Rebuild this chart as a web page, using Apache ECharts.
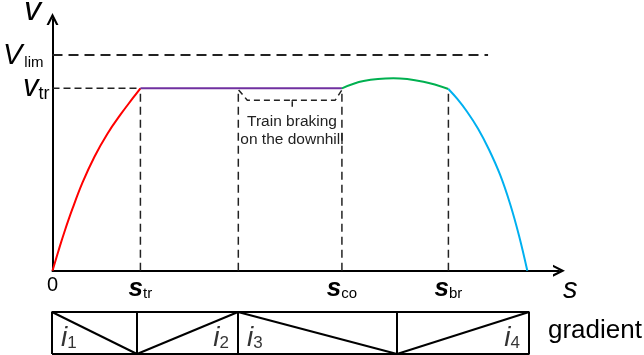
<!DOCTYPE html>
<html><head><meta charset="utf-8">
<script src="https://cdn.jsdelivr.net/npm/echarts@6/dist/echarts.min.js"></script>
<style>html,body{margin:0;padding:0;background:#fff}#c{width:644px;height:355px}</style>
</head><body><div id="c"></div>
<script>
// ---- data (distance units along s, speed units along v) ----
const accelCurve  = [[0,0],[6,20],[12,39],[20,62],[30,88],[42,114],[55,137],[68,156],[80,172],[88,182.4]];
const cruiseCurve = [[88,182.4],[289.7,182.4]];
const coastCurve  = [[289.7,182.4],[311.3,189.7],[341.3,192.4],[371.3,189],[396.3,181.7]];
const brakeCurve  = [[396.3,181.7],[405,172],[415,159],[426,142],[437,121],[448,96],[458,67],[467,35],[475.3,0]];
const brakingBrace = [[186.3,180.7],[195,170.5],[240,170.5],[240,164],[240,170.5],[283,170.5],[289.7,180.7]];
const vLim = 215.7, vTr = 182.4;
const limitSpan = [0, 436];
const phasePositions = [88, 186, 289.7, 396.3];
const phaseSpeeds = [182.4, 182.4, 182.4, 181.7];
const xTickValues = [0, 88, 289.7, 396.3];
const xTickLabels = ['0', 's|tr', 's|co', 's|br'];
const yTickValues = [vTr, vLim];
const yTickLabels = ['v|tr', 'V|lim'];
const gradientBreaks = [0, 85, 186, 345, 477];
const gradientSlopes = ['down', 'up', 'down', 'up'];
const gradientLabels = ['1', '2', '3', '4'];

const FONT = '"Liberation Sans", Arial, sans-serif';
const chart = echarts.init(document.getElementById('c'), null, {renderer: 'canvas'});
const arrow = 'path://M0,10 L5,0 L10,10 L8,10 L5,4 L2,10 Z';

function dashed(data, w, dash) {
  return {type: 'line', data, symbol: 'none', silent: true, z: 1,
    lineStyle: {color: '#222', width: w, type: dash}};
}
const series = [];
series.push(dashed([[limitSpan[0], vLim], [limitSpan[1], vLim]], 2, [10, 6]));
series.push(dashed([[0, vTr], [phasePositions[0], vTr]], 1.5, [7, 4]));
phasePositions.forEach((p, i) => series.push(dashed([[p, 0], [p, phaseSpeeds[i]]], 1.5, [8, 5])));
series.push(dashed(brakingBrace, 1.5, [6, 4]));
[[accelCurve, '#FF0000'], [cruiseCurve, '#7030A0'], [coastCurve, '#00B050'], [brakeCurve, '#00B0F0']].forEach(([d, c]) => {
  series.push({type: 'line', data: d, smooth: 0.4, symbol: 'none', z: 3, lineStyle: {color: c, width: 2}});
});
// gradient strip
const g0 = gradientBreaks[0], gN = gradientBreaks[gradientBreaks.length - 1];
const stripLine = (d) => ({type: 'line', xAxisIndex: 1, yAxisIndex: 1, data: d, symbol: 'none', clip: false, silent: true,
  lineStyle: {color: '#000', width: 2}});
series.push(stripLine([[g0, 0], [gN, 0], [gN, 1], [g0, 1], [g0, 0]]));
for (let i = 1; i < gradientBreaks.length - 1; i++) series.push(stripLine([[gradientBreaks[i], 0], [gradientBreaks[i], 1]]));
gradientSlopes.forEach((s, i) => {
  const a = gradientBreaks[i], b = gradientBreaks[i + 1];
  series.push(stripLine(s === 'down' ? [[a, 1], [b, 0]] : [[a, 0], [b, 1]]));
});
series.push({type: 'scatter', xAxisIndex: 1, yAxisIndex: 1, symbolSize: 0, silent: true,
  data: gradientSlopes.map((s, i) => ({
    value: [s === 'down' ? gradientBreaks[i] + 9 : gradientBreaks[i + 1] - 9, 0.05],
    label: {show: true, position: 'inside', align: s === 'down' ? 'left' : 'right', verticalAlign: 'bottom',
      formatter: '{i|i}{n|' + gradientLabels[i] + '}',
      rich: {i: {fontSize: 28, fontStyle: 'italic', fontFamily: FONT, color: '#000', verticalAlign: 'bottom', lineHeight: 28},
             n: {fontSize: 17, fontFamily: FONT, color: '#000', verticalAlign: 'bottom', lineHeight: 22}}}
  }))});

const richX = {
  zero: {fontSize: 20, color: '#000'},
  s: {fontSize: 26, fontStyle: 'italic', fontWeight: 'bold', fontFamily: FONT, color: '#000', lineHeight: 26, verticalAlign: 'bottom'},
  sub: {fontSize: 15, fontFamily: FONT, color: '#000', lineHeight: 22, verticalAlign: 'bottom'}
};
const richY = {
  s: {fontSize: 31, fontStyle: 'italic', fontFamily: FONT, color: '#000', lineHeight: 30, verticalAlign: 'bottom'},
  sub: {fontSize: 18, fontFamily: FONT, color: '#000', lineHeight: 24, verticalAlign: 'bottom'},
  S: {fontSize: 29, fontStyle: 'italic', fontFamily: FONT, color: '#000', lineHeight: 30, verticalAlign: 'bottom'},
  subL: {fontSize: 15, fontFamily: FONT, color: '#000', lineHeight: 23, verticalAlign: 'bottom', padding: [0, 6, 0, 2]}
};
function fmt(labels, values) {
  return v => {
    const k = values.findIndex(x => Math.abs(x - v) < 1e-6);
    if (k < 0) return '';
    const t = labels[k];
    if (t.indexOf('|') < 0) return '{zero|' + t + '}';
    const [m, s] = t.split('|');
    if (m === 'V') return '{S|' + m + '}{subL|' + s + '}';
    return '{s|' + m + '}{sub|' + s + '}';
  };
}

chart.setOption({
  animation: false,
  backgroundColor: '#fff',
  grid: [{left: 52, right: 85, top: 19, bottom: 84.3}, {left: 52, right: 85, top: 312, height: 42}],
  xAxis: [
    {type: 'value', min: 0, max: 507, gridIndex: 0,
     axisLine: {show: true, symbol: ['none', arrow], symbolSize: [14, 12], lineStyle: {color: '#000', width: 2}},
     axisTick: {show: false}, splitLine: {show: false},
     axisLabel: {customValues: xTickValues, formatter: fmt(xTickLabels, xTickValues), margin: 5,
       fontSize: 18, color: '#000', rich: richX}},
    {type: 'value', min: 0, max: 507, gridIndex: 1, show: false}
  ],
  yAxis: [
    {type: 'value', min: 0, max: 251.7, gridIndex: 0,
     axisLine: {show: true, symbol: ['none', arrow], symbolSize: [13, 12], lineStyle: {color: '#000', width: 2}},
     axisTick: {show: false}, splitLine: {show: false},
     axisLabel: {customValues: yTickValues, formatter: fmt(yTickLabels, yTickValues), margin: 3, color: '#000', rich: richY}},
    {type: 'value', min: 0, max: 1, gridIndex: 1, show: false}
  ],
  graphic: [
    {type: 'text', left: 24, top: -6, style: {text: 'v', font: 'italic 34px ' + FONT, fill: '#000'}},
    {type: 'text', left: 563, top: 275, style: {text: 's', font: 'italic 29px ' + FONT, fill: '#000'}},
    {type: 'text', left: 548, top: 318, style: {text: 'gradient', font: '26px ' + FONT, fill: '#000'}},
    {type: 'text', x: 292, y: 122, style: {text: 'Train braking', font: '15.5px ' + FONT, fill: '#222', align: 'center', verticalAlign: 'middle'}},
    {type: 'text', x: 292, y: 140, style: {text: 'on the downhill', font: '15.5px ' + FONT, fill: '#222', align: 'center', verticalAlign: 'middle'}}
  ],
  series
});
</script></body></html>
